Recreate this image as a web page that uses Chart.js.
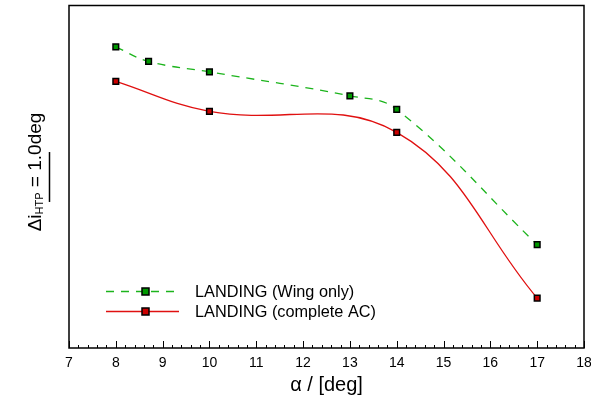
<!DOCTYPE html>
<html>
<head>
<meta charset="utf-8">
<script src="https://cdn.jsdelivr.net/npm/chart.js@4.4.1/dist/chart.umd.min.js"></script>
<style>
  html, body { margin: 0; padding: 0; background: #fff; }
  #wrap { width: 591px; height: 401px; }
</style>
</head>
<body>
<div id="wrap"><canvas id="c" width="591" height="401"></canvas></div>
<script>
// values; y in deg (scale bar = 1.0 deg)
const alphaWing = [8, 8.7, 10, 13, 14, 17];
const wingOnly = [6.03, 5.74, 5.53, 5.05, 4.78, 2.07];
const alphaAC = [8, 10, 14, 17];
const completeAC = [5.34, 4.74, 4.32, 1.0];

const xTicks = [7, 8, 9, 10, 11, 12, 13, 14, 15, 16, 17, 18];
const FONT = '"Liberation Sans", Arial, sans-serif';

const GREEN_LINE = '#1cb41c';
const GREEN_FILL = '#009900';
const RED_LINE = '#e01010';
const RED_FILL = '#cc0000';

function pts(xs, ys) {
  return xs.map((x, i) => ({ x: x, y: ys[i] }));
}

// frame, inward ticks, y title with scale bar, legend
const decor = {
  id: 'decor',
  afterDraw(chart) {
    const ctx = chart.ctx;
    const a = chart.chartArea;
    const xs = chart.scales.x;
    const ys = chart.scales.y;
    ctx.save();

    ctx.strokeStyle = '#000';
    ctx.lineWidth = 1.5;
    ctx.strokeRect(a.left, a.top, a.right - a.left, a.bottom - a.top);

    ctx.lineWidth = 1;
    for (let i = 0; i <= 55; i++) {
      const v = 7 + i * 0.2;
      const px = Math.round(xs.getPixelForValue(v)) + 0.5;
      const len = i % 5 === 0 ? 7 : 3;
      ctx.beginPath();
      ctx.moveTo(px, a.bottom);
      ctx.lineTo(px, a.bottom - len);
      ctx.stroke();
    }

    // y axis title
    ctx.fillStyle = '#000';
    ctx.translate(41, 172);
    ctx.rotate(-Math.PI / 2);
    ctx.textBaseline = 'alphabetic';
    const main = '19px ' + FONT;
    const sub = '11px ' + FONT;
    ctx.font = main;
    const w1 = ctx.measureText('\u0394i').width;
    const w3 = ctx.measureText(' = 1.0deg').width;
    ctx.font = sub;
    const w2 = ctx.measureText('HTP').width;
    let x0 = -(w1 + w2 + w3) / 2;
    ctx.font = main;
    ctx.fillText('\u0394i', x0, 0);
    ctx.font = sub;
    ctx.fillText('HTP', x0 + w1, 2);
    ctx.font = main;
    ctx.fillText(' = 1.0deg', x0 + w1 + w2, 0);
    ctx.setTransform(1, 0, 0, 1, 0, 0);

    // scale bar: 1.0 deg on the y scale
    const barLen = ys.getPixelForValue(0) - ys.getPixelForValue(1);
    ctx.lineWidth = 1.5;
    ctx.beginPath();
    ctx.moveTo(49.5, 177 - barLen / 2);
    ctx.lineTo(49.5, 177 + barLen / 2);
    ctx.stroke();

    // legend
    const items = [
      { ds: chart.data.datasets[0], y: 291.5 },
      { ds: chart.data.datasets[1], y: 311.5 }
    ];
    items.forEach(it => {
      ctx.strokeStyle = it.ds.borderColor;
      ctx.lineWidth = it.ds.borderWidth;
      ctx.setLineDash(it.ds.borderDash || []);
      ctx.beginPath();
      ctx.moveTo(106, it.y);
      ctx.lineTo(179, it.y);
      ctx.stroke();
      ctx.setLineDash([]);
      ctx.fillStyle = it.ds.pointBackgroundColor;
      ctx.strokeStyle = '#000';
      ctx.lineWidth = 1.5;
      ctx.fillRect(142, it.y - 3.5, 7, 7);
      ctx.strokeRect(142, it.y - 3.5, 7, 7);
      ctx.fillStyle = '#000';
      ctx.font = '16.3px ' + FONT;
      ctx.textBaseline = 'middle';
      ctx.fillText(it.ds.label, 195, it.y + 1);
    });
    ctx.restore();
  }
};

new Chart(document.getElementById('c'), {
  type: 'scatter',
  data: {
    datasets: [
      {
        label: 'LANDING (Wing only)',
        data: pts(alphaWing, wingOnly),
        showLine: true,
        borderColor: GREEN_LINE,
        borderWidth: 1.3,
        borderDash: [8, 7],
        tension: 0.4,
        pointStyle: 'rect',
        pointRadius: 4,
        pointBackgroundColor: GREEN_FILL,
        pointBorderColor: '#000',
        pointBorderWidth: 1.5
      },
      {
        label: 'LANDING (complete AC)',
        data: pts(alphaAC, completeAC),
        showLine: true,
        borderColor: RED_LINE,
        borderWidth: 1.3,
        tension: 0.4,
        pointStyle: 'rect',
        pointRadius: 4,
        pointBackgroundColor: RED_FILL,
        pointBorderColor: '#000',
        pointBorderWidth: 1.5
      }
    ]
  },
  options: {
    responsive: false,
    animation: false,
    devicePixelRatio: 1,
    layout: { padding: { left: 69, right: 7, top: 5, bottom: 0 } },
    plugins: { legend: { display: false }, tooltip: { enabled: false } },
    scales: {
      x: {
        type: 'linear',
        min: 7,
        max: 18,
        afterBuildTicks: s => { s.ticks = xTicks.map(v => ({ value: v })); },
        afterFit: s => { s.height = 53; s.paddingLeft = 0; s.paddingRight = 0; },
        grid: { display: false, drawTicks: false },
        border: { display: false },
        ticks: { padding: 7, color: '#000', font: { family: FONT, size: 14 }, maxRotation: 0 },
        title: { display: true, text: '\u03b1 / [deg]', color: '#000', padding: { top: 0, bottom: 4 }, font: { family: FONT, size: 20 } }
      },
      y: {
        type: 'linear',
        display: false,
        min: 0,
        max: 6.86
      }
    }
  },
  plugins: [decor]
});
</script>
</body>
</html>
